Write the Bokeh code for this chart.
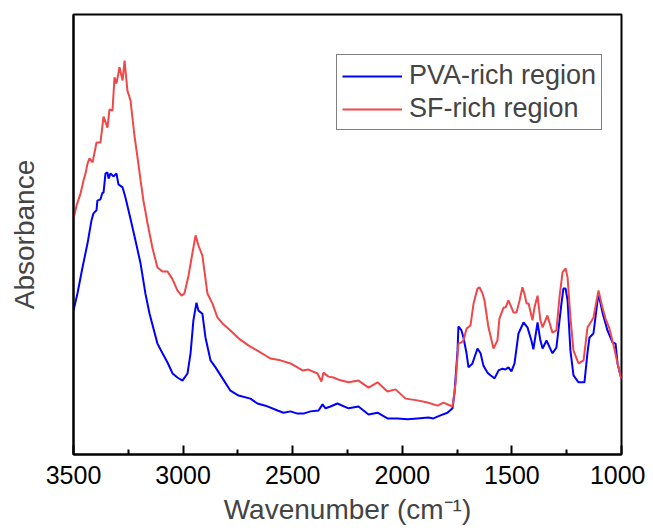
from bokeh.plotting import figure
from bokeh.models import Range1d, FixedTicker, Legend, LegendItem
from bokeh.embed import file_html
from bokeh.resources import INLINE

# ---- data ----
red_wn = [3500, 3486, 3468, 3454, 3445, 3436, 3427, 3413, 3395, 3377, 3363, 3345, 3336, 3322,
          3313, 3304, 3290, 3276, 3267, 3254, 3240, 3222, 3203, 3194, 3181, 3162, 3140, 3117,
          3094, 3071, 3048, 3026, 3007, 2994, 2975, 2957, 2943, 2930, 2912, 2889, 2866, 2843,
          2820, 2784, 2747, 2702, 2661, 2624, 2601, 2556, 2510, 2455, 2428, 2387, 2369, 2360,
          2337, 2314, 2291, 2245, 2200, 2154, 2113, 2068, 2031, 1985, 1931, 1885, 1839, 1812,
          1771, 1757, 1744, 1730, 1721, 1707, 1689, 1675, 1657, 1648, 1634, 1625, 1607, 1584,
          1566, 1557, 1538, 1529, 1516, 1506, 1493, 1479, 1465, 1452, 1443, 1433, 1424, 1406,
          1397, 1383, 1370, 1360, 1338, 1315, 1297, 1283, 1269, 1255, 1246, 1233, 1219, 1196,
          1173, 1155, 1141, 1128, 1105, 1087, 1073, 1055, 1036, 1018, 1005, 1000]
red_abs = [0.536, 0.566, 0.593, 0.623, 0.639, 0.661, 0.673, 0.664, 0.709, 0.709, 0.768, 0.743,
           0.784, 0.782, 0.857, 0.843, 0.880, 0.850, 0.895, 0.827, 0.805, 0.725, 0.657, 0.623,
           0.577, 0.525, 0.470, 0.425, 0.416, 0.416, 0.398, 0.373, 0.361, 0.366, 0.407, 0.459,
           0.498, 0.475, 0.452, 0.366, 0.343, 0.311, 0.298, 0.282, 0.264, 0.248, 0.236, 0.225,
           0.218, 0.214, 0.207, 0.191, 0.193, 0.184, 0.166, 0.186, 0.177, 0.175, 0.170, 0.164,
           0.168, 0.152, 0.164, 0.143, 0.148, 0.127, 0.123, 0.118, 0.111, 0.118, 0.109, 0.161,
           0.252, 0.255, 0.259, 0.286, 0.293, 0.343, 0.377, 0.380, 0.366, 0.350, 0.289, 0.241,
           0.259, 0.309, 0.334, 0.334, 0.350, 0.339, 0.323, 0.323, 0.350, 0.380, 0.366, 0.343,
           0.343, 0.305, 0.334, 0.361, 0.305, 0.289, 0.316, 0.277, 0.282, 0.357, 0.414, 0.423,
           0.402, 0.311, 0.236, 0.207, 0.214, 0.289, 0.300, 0.311, 0.373, 0.334, 0.309, 0.286,
           0.248, 0.207, 0.180, 0.172]

blue_wn = [3500, 3482, 3459, 3436, 3418, 3409, 3395, 3391, 3377, 3368, 3363, 3354, 3345, 3340,
           3331, 3318, 3304, 3295, 3276, 3263, 3240, 3217, 3194, 3172, 3153, 3117, 3094, 3071,
           3048, 3026, 3003, 2980, 2966, 2953, 2939, 2930, 2912, 2898, 2875, 2852, 2820, 2784,
           2747, 2693, 2661, 2624, 2569, 2542, 2510, 2478, 2451, 2419, 2382, 2364, 2350, 2328,
           2296, 2245, 2200, 2154, 2113, 2068, 2022, 1976, 1931, 1881, 1858, 1826, 1794, 1771,
           1762, 1748, 1744, 1730, 1721, 1707, 1698, 1680, 1657, 1643, 1630, 1611, 1598, 1579,
           1561, 1543, 1529, 1516, 1502, 1488, 1470, 1447, 1429, 1411, 1402, 1383, 1370, 1360,
           1342, 1315, 1297, 1274, 1265, 1255, 1246, 1233, 1219, 1196, 1169, 1155, 1146, 1128,
           1105, 1087, 1064, 1041, 1027, 1018, 1005, 1000]
blue_abs = [0.327, 0.366, 0.425, 0.480, 0.532, 0.548, 0.555, 0.577, 0.580, 0.595, 0.595, 0.639,
            0.641, 0.627, 0.639, 0.632, 0.639, 0.614, 0.607, 0.584, 0.536, 0.486, 0.434, 0.366,
            0.320, 0.252, 0.230, 0.209, 0.184, 0.175, 0.168, 0.184, 0.230, 0.305, 0.345, 0.327,
            0.320, 0.266, 0.214, 0.198, 0.173, 0.145, 0.134, 0.127, 0.116, 0.111, 0.100, 0.095,
            0.098, 0.093, 0.093, 0.098, 0.100, 0.114, 0.105, 0.109, 0.116, 0.105, 0.109, 0.091,
            0.095, 0.082, 0.082, 0.080, 0.082, 0.084, 0.082, 0.089, 0.095, 0.105, 0.139, 0.236,
            0.291, 0.282, 0.266, 0.230, 0.198, 0.207, 0.241, 0.230, 0.202, 0.186, 0.180, 0.173,
            0.191, 0.195, 0.193, 0.198, 0.189, 0.207, 0.275, 0.300, 0.289, 0.259, 0.239, 0.300,
            0.259, 0.241, 0.259, 0.230, 0.243, 0.343, 0.377, 0.377, 0.350, 0.236, 0.180, 0.164,
            0.164, 0.232, 0.266, 0.275, 0.366, 0.323, 0.282, 0.255, 0.252, 0.207, 0.180, 0.172]

x_ticks = [1000, 1500, 2000, 2500, 3000, 3500]
x_minor_ticks = [1250, 1750, 2250, 2750, 3250]
series_names = ["PVA-rich region", "SF-rich region"]

FONT = "Liberation Sans"

p = figure(frame_width=548, frame_height=440, output_backend="svg", toolbar_location=None,
           x_range=Range1d(3500, 1000), y_range=Range1d(0, 1),
           min_border_left=73, min_border_right=24, min_border_top=14, min_border_bottom=70)
p.grid.visible = False
p.background_fill_color = "white"
p.border_fill_color = "white"
p.outline_line_color = "black"
p.outline_line_width = 2

rb = p.line(blue_wn, blue_abs, line_color="#0000FF", line_width=2)
rr = p.line(red_wn, red_abs, line_color="#F04848", line_width=2)

xa = p.xaxis[0]
xa.ticker = FixedTicker(ticks=x_ticks, minor_ticks=x_minor_ticks)
xa.axis_line_width = 2
xa.major_tick_line_width = 2
xa.minor_tick_line_width = 2
xa.major_tick_in = 9
xa.major_tick_out = 0
xa.minor_tick_in = 5
xa.minor_tick_out = 0
xa.major_label_text_font = FONT
xa.major_label_text_font_size = "25px"
xa.major_label_text_color = "black"
xa.major_label_standoff = 11
xa.axis_label = "Wavenumber (cm\u207b\u00b9)"
xa.axis_label_text_font = FONT
xa.axis_label_text_font_size = "28px"
xa.axis_label_text_font_style = "normal"
xa.axis_label_standoff = 7

ya = p.yaxis[0]
ya.ticker = FixedTicker(ticks=[])
ya.axis_line_width = 2
ya.major_tick_line_color = None
ya.minor_tick_line_color = None
ya.axis_label = "Absorbance"
ya.axis_label_text_font = FONT
ya.axis_label_text_font_size = "28px"
ya.axis_label_text_font_style = "normal"
ya.axis_label_standoff = 34

legend = Legend(items=[LegendItem(label=series_names[0], renderers=[rb]),
                       LegendItem(label=series_names[1], renderers=[rr])],
                location=(263, 324), orientation="vertical")
legend.label_text_font = FONT
legend.label_text_font_size = "27px"
legend.glyph_width = 60
legend.glyph_height = 30
legend.label_height = 30
legend.label_standoff = 7
legend.padding = 5
legend.spacing = 2
legend.margin = 0
legend.border_line_color = "black"
legend.border_line_width = 1.5
legend.background_fill_alpha = 1
p.add_layout(legend, "center")

open("out.html", "w").write(file_html(p, INLINE))
